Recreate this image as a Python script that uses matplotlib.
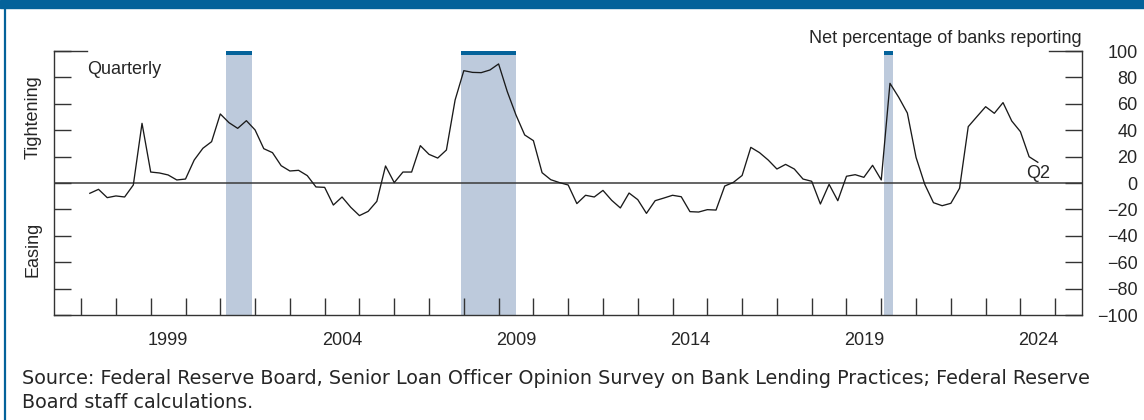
import numpy as np
import matplotlib
matplotlib.use('Agg')
from matplotlib import pyplot as plt
from matplotlib.patches import Rectangle
from matplotlib.lines import Line2D

########################################################################
# Data: net percentage of banks reporting tighter standards, quarterly
########################################################################

start_year = 1997.25
net_pct = [
    -7.8, -4.8, -11.1, -9.8, -10.6, -1.5, 45.2, 8.3, 7.6, 6.1,
    2.3, 3.0, 17.4, 26.3, 31.3, 52.3, 45.7, 41.4, 47.2, 40.2,
    26.0, 23.0, 13.1, 9.1, 9.6, 5.6, -3.0, -3.3, -16.7, -10.6,
    -18.4, -24.7, -21.5, -13.9, 12.9, 0.3, 8.3, 8.3, 28.3, 21.7,
    18.9, 25.0, 62.9, 85.1, 83.8, 83.6, 85.6, 90.2, 69.2, 51.5,
    36.4, 32.1, 7.8, 2.5, 0.3, -1.5, -15.6, -9.3, -10.6, -5.6,
    -13.1, -18.9, -7.6, -12.6, -23.0, -13.4, -11.4, -9.3, -10.4, -21.7,
    -22.0, -20.2, -20.5, -2.3, 0.5, 5.7, 27.0, 23.0, 17.4, 10.6,
    14.1, 10.6, 3.0, 1.3, -15.9, -1.0, -13.4, 5.1, 6.3, 4.3,
    13.4, 2.3, 75.5, 65.0, 53.0, 19.4, -1.0, -14.9, -17.2, -15.4,
    -4.0, 42.7, 50.3, 57.8, 52.8, 60.9, 47.0, 38.9, 19.9, 15.7,
]
dates = start_year + 0.25 * np.arange(len(net_pct))

# recessions (start, end) in decimal years
recessions = [(2001.17, 2001.92), (2007.92, 2009.5), (2020.08, 2020.33)]

year_labels = ['1999', '2004', '2009', '2014', '2019', '2024']
y_ticks = [-100, -80, -60, -40, -20, 0, 20, 40, 60, 80, 100]

########################################################################
# Style
########################################################################

blue = '#04629a'
shade = '#bdcadc'
ink = '#262626'
axis_font = 'Liberation Sans'
fs = 13

fig = plt.figure(figsize=(11.44, 4.2), dpi=100)
W, H = 1144, 420
ax = fig.add_axes([54 / W, 1 - 315 / H, (1082 - 54) / W, (315 - 51) / H])

# header band and left frame line
fig.patches.append(Rectangle((0, 1 - 7.5 / H), 1, 7.5 / H, transform=fig.transFigure,
                             color=blue, zorder=0))
fig.lines.append(Line2D([5 / W, 5 / W], [0, 1], transform=fig.transFigure,
                        color=blue, lw=1.6))

for s, e in recessions:
    ax.axvspan(s, e, color=shade, lw=0, zorder=1)
    ax.add_patch(Rectangle((s, 96.8), e - s, 3.2, color=blue, lw=0, zorder=2))

ax.axhline(0, color='#3a3a3a', lw=1.1, zorder=3)
ax.plot(dates, net_pct, color='#1a1a1a', lw=0.95, zorder=4)

ax.set_xlim(1996.22, 2025.77)
ax.set_ylim(-100, 100)

# spines
for side in ['left', 'right', 'bottom']:
    ax.spines[side].set_color('#333333')
    ax.spines[side].set_linewidth(1.0)
ax.spines['top'].set_visible(False)
ax.set_facecolor('none')

# short top corner segments
corner = 33 / 1028
ax.plot([0, corner], [1, 1], transform=ax.transAxes, color='#333333', lw=1.0, clip_on=False)
ax.plot([1 - corner, 1], [1, 1], transform=ax.transAxes, color='#333333', lw=1.0, clip_on=False)

# y ticks: inward on both sides, labels right-aligned on the right
ax.set_yticks(y_ticks)
ax.set_yticklabels([str(v).replace('-', '\u2212') for v in y_ticks])
ax.tick_params(axis='y', direction='in', left=True, right=True, labelleft=False,
               labelright=True, length=12.2, width=1.0, color='#333333', pad=40,
               labelsize=fs, labelcolor=ink)
for lab in ax.get_yticklabels():
    lab.set_horizontalalignment('right')
    lab.set_fontfamily(axis_font)

# x ticks: year ticks inward, labels at mid-year
ax.set_xticks(np.arange(1997, 2026))
ax.set_xticks([int(y) + 0.5 for y in year_labels], minor=True)
ax.set_xticklabels([], minor=False)
ax.set_xticklabels(year_labels, minor=True)
ax.tick_params(axis='x', which='major', direction='in', length=12.2, width=1.0,
               color='#333333')
ax.tick_params(axis='x', which='minor', length=0, pad=12, labelsize=fs, labelcolor=ink)
for lab in ax.get_xticklabels(minor=True):
    lab.set_fontfamily(axis_font)

# annotations
ax.text(0.032, 82.5, 'Quarterly', transform=ax.get_yaxis_transform(), ha='left',
        va='baseline', fontsize=fs, color=ink, family=axis_font)
ax.text(-0.0205, 50, 'Tightening', transform=ax.get_yaxis_transform(), rotation=90,
        ha='center', va='center', fontsize=fs, color=ink, family=axis_font)
ax.text(-0.0205, -50, 'Easing', transform=ax.get_yaxis_transform(), rotation=90,
        ha='center', va='center', fontsize=fs, color=ink, family=axis_font)
ax.text(1.0, 1.029, 'Net percentage of banks reporting', transform=ax.transAxes,
        ha='right', va='baseline', fontsize=fs, color=ink, family=axis_font)
ax.text(dates[-1], 3.5, 'Q2', ha='center', va='baseline', fontsize=fs, color=ink,
        family=axis_font)

# source note
fig.text(22 / W, 1 - 384 / H, 'Source: Federal Reserve Board, Senior Loan Officer Opinion '
         'Survey on Bank Lending Practices; Federal Reserve', ha='left', va='baseline',
         fontsize=13.8, color=ink, family='DejaVu Sans')
fig.text(22 / W, 1 - 407.5 / H, 'Board staff calculations.', ha='left', va='baseline',
         fontsize=13.8, color=ink, family='DejaVu Sans')

plt.savefig('out.png', dpi=100)
